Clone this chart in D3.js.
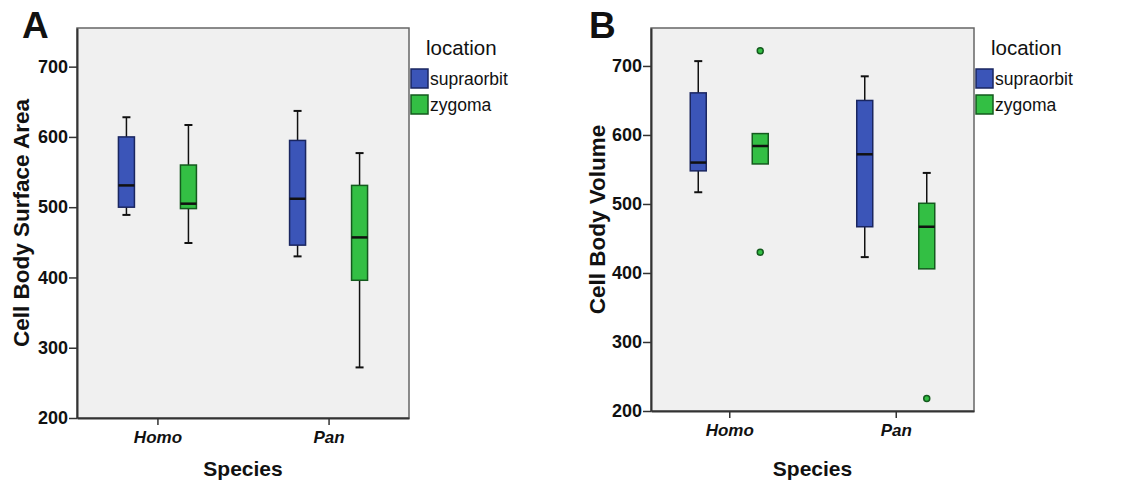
<!DOCTYPE html>
<html>
<head>
<meta charset="utf-8">
<script src="https://cdn.jsdelivr.net/npm/d3@7"></script>
<style>
  body { margin: 0; background: #fff; }
  text { font-family: Arial, "Liberation Sans", sans-serif; fill: #111; }
</style>
</head>
<body>
<div id="chart"></div>
<script>
// data: [whisker low, Q1, median, Q3, whisker high]
var species = ["Homo", "Pan"];
var locations = ["supraorbit", "zygoma"];
var yTicks = [200, 300, 400, 500, 600, 700];

// order: Homo/supraorbit, Homo/zygoma, Pan/supraorbit, Pan/zygoma
var areaStats = [
  [489, 500, 531, 600, 628],
  [449, 498, 505, 560, 617],
  [430, 446, 512, 595, 637],
  [272, 396, 457, 531, 577]
];
var areaOutliers = [[], [], [], []];

var volumeStats = [
  [517, 548, 560, 661, 707],
  [558, 558, 584, 602, 602],
  [423, 467, 572, 650, 685],
  [406, 406, 467, 501, 545]
];
var volumeOutliers = [[], [722, 430], [], [218]];

var colors = { supraorbit: "#3b55b8", zygoma: "#33bf44" };
var strokes = { supraorbit: "#1a2660", zygoma: "#145a1e" };

var svg = d3.select("#chart").append("svg")
  .attr("width", 1125).attr("height", 489);

function drawPanel(opt) {
  var x0 = opt.left, y0 = 28, w = opt.right - opt.left, h = opt.bottom - y0;
  var g = svg.append("g").attr("transform", "translate(" + x0 + "," + y0 + ")");

  var y = d3.scaleLinear().domain([200, opt.top]).range([h, 0]);
  var x = d3.scalePoint().domain(species).range([0, w]).padding(0.47);
  var sub = d3.scalePoint().domain(locations).range([-31, 31]);

  g.append("rect").attr("width", w).attr("height", h)
    .attr("fill", "#f0f0f0").attr("stroke", "#666").attr("stroke-width", 1.5);

  // axes
  var ya = g.append("g").call(d3.axisLeft(y).tickValues(yTicks).tickSize(8).tickSizeOuter(0));
  ya.select(".domain").attr("stroke", "#333").attr("stroke-width", 2);
  ya.selectAll(".tick line").attr("stroke", "#333").attr("stroke-width", 1.5);
  ya.selectAll(".tick text").attr("x", -9).attr("font-size", 18).attr("font-weight", "bold")
    .attr("font-family", "Arial, 'Liberation Sans', sans-serif").attr("fill", "#222");

  var xa = g.append("g").attr("transform", "translate(0," + h + ")")
    .call(d3.axisBottom(x).tickSize(7).tickSizeOuter(0));
  xa.select(".domain").attr("stroke", "#333").attr("stroke-width", 2);
  xa.selectAll(".tick line").attr("stroke", "#333").attr("stroke-width", 1.5);
  xa.selectAll(".tick text").attr("y", 13).attr("font-size", 17).attr("font-weight", "bold")
    .attr("font-style", "italic").attr("font-family", "Arial, 'Liberation Sans', sans-serif")
    .attr("fill", "#222");

  // boxes
  var rows = [];
  species.forEach(function (s, i) {
    locations.forEach(function (l, j) {
      rows.push({ s: s, l: l, v: opt.stats[i * 2 + j], out: opt.outliers[i * 2 + j] });
    });
  });
  var bw = 16;
  var box = g.selectAll(".box").data(rows).enter().append("g")
    .attr("transform", function (d) { return "translate(" + (x(d.s) + sub(d.l)) + ",0)"; });

  box.append("line").attr("y1", function (d) { return y(d.v[0]); })
    .attr("y2", function (d) { return y(d.v[4]); })
    .attr("stroke", "#111").attr("stroke-width", 1.5);
  box.filter(function (d) { return d.v[0] < d.v[1]; }).append("line")
    .attr("x1", -4).attr("x2", 4)
    .attr("y1", function (d) { return y(d.v[0]); }).attr("y2", function (d) { return y(d.v[0]); })
    .attr("stroke", "#111").attr("stroke-width", 2);
  box.filter(function (d) { return d.v[4] > d.v[3]; }).append("line")
    .attr("x1", -4).attr("x2", 4)
    .attr("y1", function (d) { return y(d.v[4]); }).attr("y2", function (d) { return y(d.v[4]); })
    .attr("stroke", "#111").attr("stroke-width", 2);
  box.append("rect").attr("x", -bw / 2).attr("width", bw)
    .attr("y", function (d) { return y(d.v[3]); })
    .attr("height", function (d) { return y(d.v[1]) - y(d.v[3]); })
    .attr("fill", function (d) { return colors[d.l]; })
    .attr("stroke", function (d) { return strokes[d.l]; }).attr("stroke-width", 1.5);
  box.append("line").attr("x1", -bw / 2).attr("x2", bw / 2)
    .attr("y1", function (d) { return y(d.v[2]); }).attr("y2", function (d) { return y(d.v[2]); })
    .attr("stroke", "#111").attr("stroke-width", 2.5);
  box.selectAll("circle").data(function (d) { return d.out; }).enter().append("circle")
    .attr("cy", function (v) { return y(v); }).attr("r", 3)
    .attr("fill", "#33bf44").attr("stroke", "#145a1e").attr("stroke-width", 1.5);

  // titles
  svg.append("text").attr("x", opt.letterX).attr("y", 38).attr("font-size", 37)
    .attr("font-weight", "bold").text(opt.letter);
  svg.append("text")
    .attr("transform", "translate(" + opt.yTitleX + "," + (y0 + h / 2) + ") rotate(-90)")
    .attr("text-anchor", "middle").attr("font-size", 22.5).attr("font-weight", "bold")
    .attr("fill", "#222").text(opt.yTitle);
  svg.append("text").attr("x", x0 + (x("Homo") + x("Pan")) / 2).attr("y", 476)
    .attr("text-anchor", "middle").attr("font-size", 21).attr("font-weight", "bold")
    .attr("fill", "#222").text("Species");

  // legend
  var lx = opt.right + 2;
  svg.append("text").attr("x", lx + 15).attr("y", 55).attr("font-size", 20.5)
    .attr("fill", "#222").text("location");
  var leg = svg.selectAll(null).data(locations).enter().append("g")
    .attr("transform", function (d, i) { return "translate(" + lx + "," + (69 + i * 26) + ")"; });
  leg.append("rect").attr("width", 17).attr("height", 19)
    .attr("fill", function (d) { return colors[d]; })
    .attr("stroke", function (d) { return strokes[d]; }).attr("stroke-width", 1.5);
  leg.append("text").attr("x", 19).attr("y", 16).attr("font-size", 17.5)
    .attr("fill", "#222").text(function (d) { return d; });
}

drawPanel({ left: 77, right: 409, bottom: 418, top: 755, stats: areaStats, outliers: areaOutliers,
  letter: "A", letterX: 22, yTitleX: 29, yTitle: "Cell Body Surface Area" });
drawPanel({ left: 651, right: 974, bottom: 411, top: 755, stats: volumeStats, outliers: volumeOutliers,
  letter: "B", letterX: 589, yTitleX: 605, yTitle: "Cell Body Volume" });
</script>
</body>
</html>
